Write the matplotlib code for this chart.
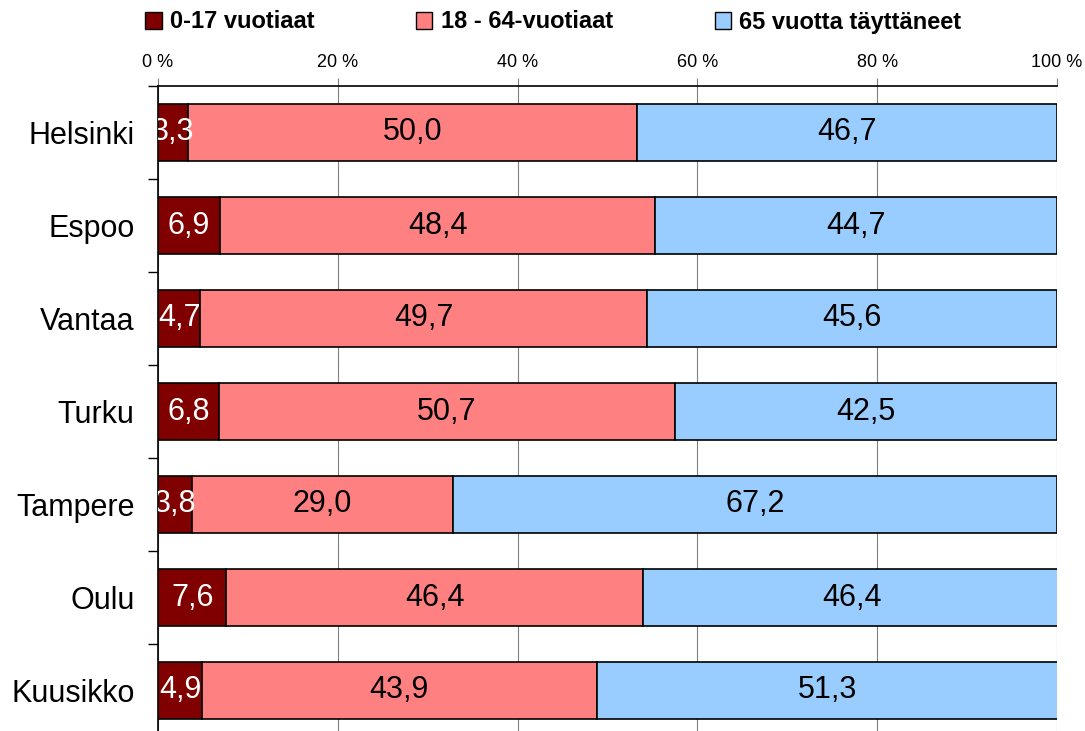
import numpy as np
import matplotlib.pyplot as plt
from matplotlib.patches import Patch

plt.rcParams['font.family'] = ['Liberation Sans', 'DejaVu Sans']

# Data
cities = ['Helsinki', 'Espoo', 'Vantaa', 'Turku', 'Tampere', 'Oulu', 'Kuusikko']
kids = [3.3, 6.9, 4.7, 6.8, 3.8, 7.6, 4.9]
adults = [50.0, 48.4, 49.7, 50.7, 29.0, 46.4, 43.9]
seniors = [46.7, 44.7, 45.6, 42.5, 67.2, 46.4, 51.3]
series_names = ['0-17 vuotiaat', '18 - 64-vuotiaat', '65 vuotta täyttäneet']
colors = ['#800000', '#FF8080', '#99CCFF']
text_colors = ['white', 'black', 'black']

fig = plt.figure(figsize=(10.85, 7.31), dpi=100)
ax = fig.add_axes([158 / 1085, -6 / 731, 899 / 1085, 651 / 731])

y = np.arange(len(cities))
left = np.zeros(len(cities))
for vals, col, tcol in zip([kids, adults, seniors], colors, text_colors):
    vals = np.array(vals)
    ax.barh(y, vals, left=left, height=0.62, color=col,
            edgecolor='black', linewidth=1.2, zorder=3)
    for yi, l, v in zip(y, left, vals):
        ax.text(l + v / 2, yi, f'{v:.1f}'.replace('.', ','), ha='center',
                va='center', fontsize=22, color=tcol, zorder=4, clip_on=True)
    left += vals

ax.set_xlim(0, 100)
ax.set_ylim(len(cities) - 0.5, -0.5)

# x axis on top
ax.xaxis.tick_top()
ax.set_xticks(np.arange(0, 101, 20))
ax.set_xticklabels([f'{t} %' for t in range(0, 101, 20)])
ax.tick_params(axis='x', which='major', length=6, color='#808080',
               labelsize=13, pad=5)
ax.grid(axis='x', color='#808080', linewidth=0.8, zorder=0)

# y axis: labels at centers, ticks at boundaries
ax.set_yticks(y)
ax.set_yticklabels(cities)
ax.tick_params(axis='y', which='major', length=0, labelsize=22, pad=17)
ax.set_yticks(np.arange(-0.5, len(cities), 1), minor=True)
ax.tick_params(axis='y', which='minor', length=7, width=1, color='black')

for s in ['right', 'bottom']:
    ax.spines[s].set_visible(False)
ax.spines['left'].set_linewidth(1.2)
ax.spines['top'].set_linewidth(1.2)

handles = [Patch(facecolor=c, edgecolor='black', linewidth=1) for c in colors]
fig.legend(handles, series_names, loc='center left', ncol=3,
           bbox_to_anchor=(145 / 1085, 1 - 22 / 731), frameon=False,
           prop={'weight': 'bold', 'size': 17}, handlelength=0.7,
           handleheight=0.7, handletextpad=0.35, columnspacing=4.3,
           borderaxespad=0, borderpad=0)

fig.savefig('out.png', dpi=100)
